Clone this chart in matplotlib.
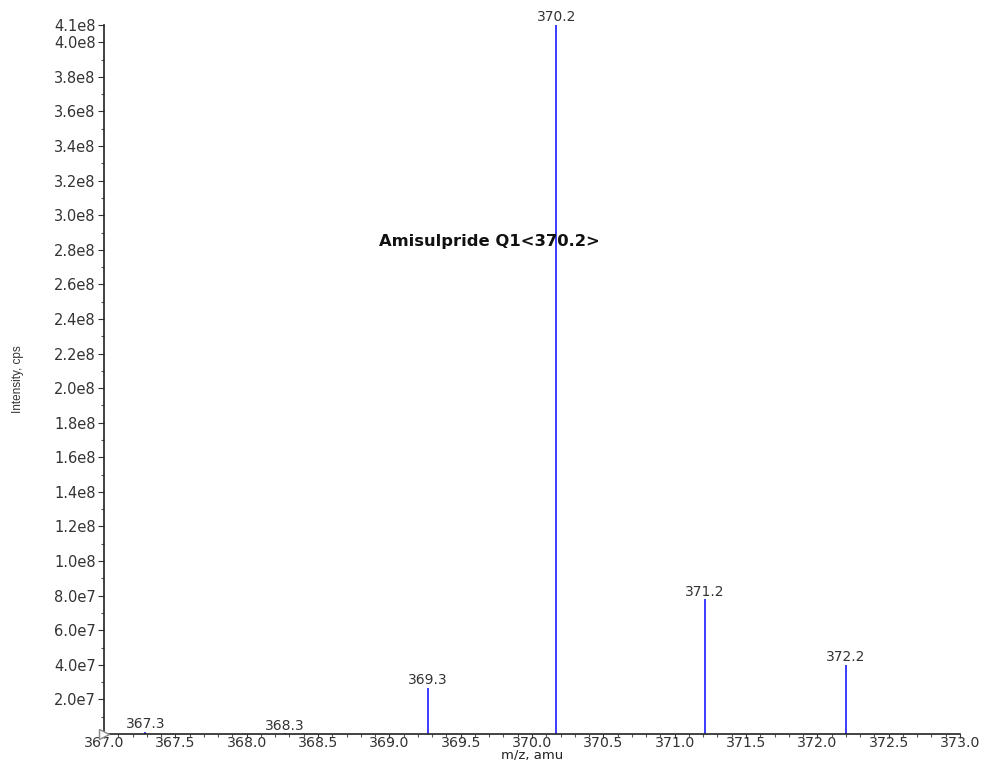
import matplotlib
matplotlib.use("Agg")
import matplotlib.pyplot as plt
from matplotlib.ticker import MultipleLocator, FixedLocator

plt.rcParams['font.family'] = ['DejaVu Sans']

# peak list: m/z and intensity (cps)
mz = [367.29, 368.27, 369.27, 370.17, 371.21, 372.20]
intensity = [1.2e6, 3.0e5, 2.68e7, 4.10e8, 7.78e7, 4.00e7]
title = "Amisulpride Q1<370.2>"

ytick_vals = [2e7, 4e7, 6e7, 8e7, 1.0e8, 1.2e8, 1.4e8, 1.6e8, 1.8e8, 2.0e8,
              2.2e8, 2.4e8, 2.6e8, 2.8e8, 3.0e8, 3.2e8, 3.4e8, 3.6e8, 3.8e8,
              4.0e8, 4.1e8]


def sci(v):
    s = "%.1e" % v
    base, exp = s.split("e")
    return "%se%d" % (base, int(exp))


fig = plt.figure(figsize=(9.81, 7.6), dpi=100)
ax = fig.add_axes([104 / 981, 26 / 760, 856 / 981, 709 / 760])

ax.vlines(mz, 0, intensity, colors="#3b3bff", linewidth=1.4)
for x, y in zip(mz, intensity):
    ax.annotate("%.1f" % x, (x, y), xytext=(0, 0.5), textcoords="offset points",
                ha="center", va="bottom", fontsize=10, color="#333333")

ax.text(369.70, 2.85e8, title, ha="center", va="center",
        fontsize=11.8, fontweight="bold", color="#111111")

ax.set_xlim(367.0, 373.0)
ax.set_ylim(0, 4.1e8)
ax.xaxis.set_major_locator(MultipleLocator(0.5))
ax.xaxis.set_minor_locator(MultipleLocator(0.1))
ax.set_xticklabels(["%.1f" % v for v in ax.get_xticks()])
ax.yaxis.set_major_locator(FixedLocator(ytick_vals))
ax.yaxis.set_minor_locator(MultipleLocator(1e7))
ax.set_yticklabels([sci(v) for v in ytick_vals])

for side in ("top", "right"):
    ax.spines[side].set_visible(False)
for side in ("left", "bottom"):
    ax.spines[side].set_color("#222222")
    ax.spines[side].set_linewidth(1.2)

ax.tick_params(axis="y", which="major", length=4, width=0.8,
               colors="#333333", labelsize=10.5, pad=2)
ax.tick_params(axis="x", which="major", length=3, width=0.8,
               colors="#333333", labelsize=10.2, pad=-1.5)
ax.tick_params(axis="both", which="minor", length=2.5, width=0.8,
               colors="#555555")

# small marker at the origin
ax.plot([367.0], [0], marker=">", markersize=7, markerfacecolor="white",
        markeredgecolor="#888888", clip_on=False, zorder=5)

ax.set_xlabel("m/z, amu", fontsize=9.5, color="#222222", va="center")
ax.xaxis.set_label_coords(0.5, -(755 - 734) / 709)
ax.set_ylabel("Intensity, cps", fontsize=8.5, color="#333333",
              family=["Liberation Sans Narrow", "Liberation Sans"])
ax.yaxis.set_label_coords(-(104 - 24) / 856, 0.5)

fig.savefig("out.png", dpi=100)
